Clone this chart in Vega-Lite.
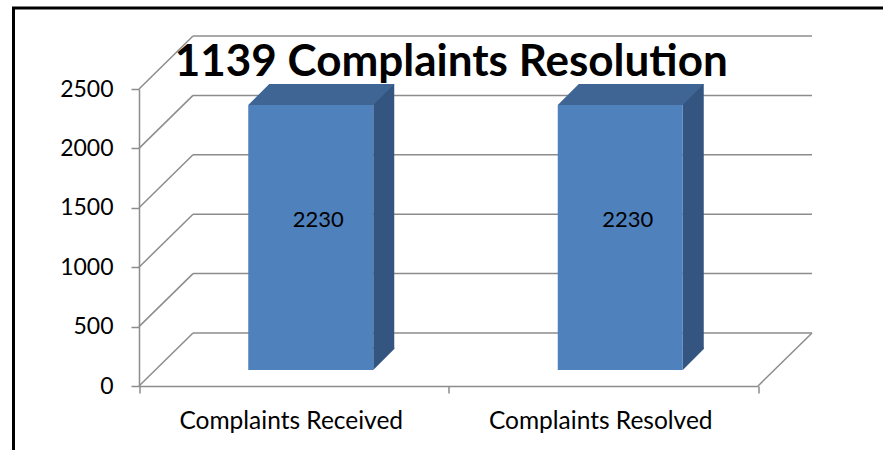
{
  "$schema": "https://vega.github.io/schema/vega-lite/v6.json",
  "width": 869.5,
  "height": 442,
  "autosize": {"type": "none"},
  "padding": {"left": 13.5, "top": 8, "right": 0, "bottom": 0},
  "background": "white",
  "config": {
    "view": {"stroke": "black", "strokeWidth": 3, "strokeDash": [869.5, 1311.5, 460], "strokeCap": "square"},
    "font": "Lato"
  },
  "title": {
    "text": "1139 Complaints Resolution",
    "font": "Lato",
    "fontSize": 44,
    "fontWeight": "bold",
    "color": "black",
    "anchor": "middle",
    "frame": "group",
    "baseline": "alphabetic",
    "offset": 0,
    "dy": 112,
    "dx": 3
  },
  "datasets": {
    "bars": [
      {"category": "Complaints Received", "value": 2230},
      {"category": "Complaints Resolved", "value": 2230}
    ],
    "ticks": [
      {"tick": 0}, {"tick": 500}, {"tick": 1000}, {"tick": 1500}, {"tick": 2000}, {"tick": 2500}
    ]
  },
  "layer": [
    {
      "data": {"name": "ticks"},
      "mark": {"type": "rule", "color": "#8c8c8c", "strokeWidth": 1.5, "xOffset": 54, "x2Offset": 54, "yOffset": -53, "y2Offset": -53},
      "encoding": {
        "x": {"datum": "Complaints Received", "type": "nominal", "bandPosition": 0,
              "scale": {"type": "band", "domain": ["Complaints Received", "Complaints Resolved"], "range": [125.5, 744.5], "paddingInner": 0, "paddingOuter": 0}},
        "x2": {"datum": "Complaints Resolved", "bandPosition": 1},
        "y": {"field": "tick", "type": "quantitative",
              "scale": {"domain": [0, 2500], "range": [378, 81], "nice": false, "zero": true}},
        "y2": {"field": "tick"}
      }
    },
    {
      "data": {"name": "ticks"},
      "mark": {"type": "rule", "color": "#8c8c8c", "strokeWidth": 1.5, "x2Offset": 54, "y2Offset": -53},
      "encoding": {
        "x": {"datum": "Complaints Received", "type": "nominal", "bandPosition": 0},
        "x2": {"datum": "Complaints Received", "bandPosition": 0},
        "y": {"field": "tick", "type": "quantitative"},
        "y2": {"field": "tick"}
      }
    },
    {
      "data": {"name": "ticks"},
      "transform": [{"filter": "datum.tick == 0"}],
      "mark": {"type": "rule", "color": "#8c8c8c", "strokeWidth": 1.5, "x2Offset": 54, "y2Offset": -53},
      "encoding": {
        "x": {"datum": "Complaints Resolved", "type": "nominal", "bandPosition": 1},
        "x2": {"datum": "Complaints Resolved", "bandPosition": 1},
        "y": {"field": "tick", "type": "quantitative"},
        "y2": {"field": "tick"}
      }
    },
    {
      "data": {"name": "bars"},
      "mark": {"type": "bar", "width": 21, "color": "#34557f", "xOffset": 90, "yOffset": -37},
      "encoding": {
        "x": {"field": "category", "type": "nominal"},
        "y": {"field": "value", "type": "quantitative"}
      }
    },
    {
      "data": {"name": "bars"},
      "mark": {"type": "point", "shape": "M-1,-1.15L-1,1L1,-1L1,-1.15Z", "size": 441, "filled": true,
               "color": "#34557f", "opacity": 1, "strokeWidth": 0, "xOffset": 90, "yOffset": -26.5},
      "encoding": {
        "x": {"field": "category", "type": "nominal"},
        "y": {"datum": 0, "type": "quantitative"}
      }
    },
    {
      "data": {"name": "bars"},
      "mark": {"type": "bar", "width": 125, "color": "#4f81bd", "xOffset": 17, "yOffset": -16},
      "encoding": {
        "x": {"field": "category", "type": "nominal",
              "axis": {"orient": "bottom", "offset": -64, "title": null, "tickBand": "extent", "tickSize": 7, "tickWidth": 1.5, "tickColor": "#8c8c8c",
                       "domainColor": "#8c8c8c", "domainWidth": 1.5, "labelAngle": 0, "labelFont": "Lato", "labelFontSize": 24.5, "labelColor": "black",
                       "labelPadding": 35, "labelBaseline": "alphabetic", "labelLimit": 0, "labelAlign": "center", "labelOffset": -3, "grid": false}},
        "y": {"field": "value", "type": "quantitative",
              "axis": {"orient": "left", "offset": -125.5, "title": null, "values": [0, 500, 1000, 1500, 2000, 2500], "format": "d", "grid": false,
                       "tickSize": 8, "tickWidth": 1.5, "tickColor": "#8c8c8c", "domainColor": "#8c8c8c", "domainWidth": 1.5,
                       "labelFont": "Lato", "labelFontSize": 23, "labelColor": "black", "labelPadding": 18}}
      }
    },
    {
      "data": {"name": "bars"},
      "mark": {"type": "point", "shape": "M-1,0.1438L0.7123,0.1438L1,-0.1438L-0.7123,-0.1438Z", "size": 21316, "filled": true,
               "color": "#3e6594", "opacity": 1, "strokeWidth": 0, "xOffset": 27.5, "yOffset": -26.5},
      "encoding": {
        "x": {"field": "category", "type": "nominal"},
        "y": {"field": "value", "type": "quantitative"}
      }
    },
    {
      "data": {"name": "bars"},
      "mark": {"type": "text", "font": "Lato", "fontSize": 22, "color": "black", "align": "center", "baseline": "middle", "xOffset": 24.5, "yOffset": 99},
      "encoding": {
        "x": {"field": "category", "type": "nominal"},
        "y": {"field": "value", "type": "quantitative"},
        "text": {"field": "value", "type": "quantitative"}
      }
    }
  ]
}
